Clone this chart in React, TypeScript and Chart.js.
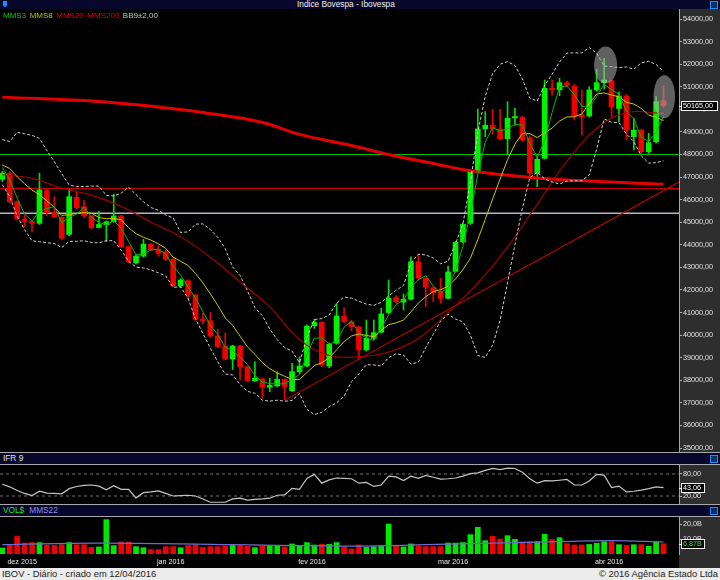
import React, { useEffect, useRef } from "react";
import { Chart, registerables } from "chart.js";

Chart.register(...registerables);

const FONT = '"Liberation Sans", Arial, Helvetica, sans-serif';
Chart.defaults.font.family = FONT;

// ---------------- price data (daily candles) ----------------
const opens = [
  46900, 47170, 45910, 45140, 45050, 44950, 46400, 45420, 45220, 44460,
  46100, 45690, 45280, 44770, 44890, 45020, 45280, 43920, 43200, 43500,
  44030, 43800, 43700, 43360, 42180, 42410, 41780, 40710, 40640, 39960,
  39520, 38940, 39520, 38600, 37970, 38060, 37690, 37750, 38040, 37540,
  38380, 38630, 40420, 40560, 38630, 39640, 40830, 40590, 40370, 39340,
  39860, 40130, 41000, 41660, 41460, 41590, 43250, 42520, 42100, 41910,
  41630, 42820, 44130, 44950, 47270, 49140, 49290, 49130, 48700, 49620,
  49650, 48740, 47170, 47830, 50930, 50860, 51180, 51030, 49750, 49700,
  50860, 51180, 51270, 50040, 50590, 48790, 49080, 48120, 48560, 50380,
];
const highs = [
  47250, 47250, 45950, 45320, 45100, 47170, 46450, 46130, 45250, 46460,
  46350, 45980, 45300, 45470, 45050, 46250, 45300, 43950, 43550, 44240,
  44050, 44000, 43750, 43400, 42500, 42450, 41800, 40970, 41000, 40260,
  40090, 39550, 39550, 38620, 38820, 38100, 38090, 38380, 38060, 38750,
  39040, 40450, 40700, 40600, 39650, 41410, 41230, 40650, 40400, 40670,
  40670, 41190, 42440, 41750, 41820, 43470, 43590, 42550, 42150, 42520,
  43060, 44150, 44950, 47300, 50010, 49900, 50000, 50000, 50340, 50040,
  49700, 48800, 47900, 51300, 51300, 51370, 51250, 51100, 50860, 51000,
  51770, 52260, 51300, 50780, 50650, 49600, 49100, 48940, 50560, 51030,
];
const lows = [
  46800, 45850, 45100, 44800, 44580, 44900, 45300, 45200, 44240, 44400,
  45600, 45200, 44700, 44750, 44140, 45000, 43880, 43200, 43150, 43450,
  43750, 43500, 43300, 42150, 42100, 41600, 40650, 40490, 39900, 39450,
  38900, 38480, 38010, 37950, 37950, 37200, 37490, 37700, 37130, 37500,
  38300, 38600, 40300, 38600, 38550, 39600, 40550, 40200, 38970, 39300,
  39800, 40100, 40950, 41400, 41110, 41550, 42450, 41260, 41480, 41410,
  41600, 42780, 44100, 44900, 47200, 48790, 48900, 48650, 47980, 49300,
  48600, 46940, 46570, 47800, 50630, 50600, 51000, 49530, 48860, 49650,
  50800, 50900, 49670, 49450, 48640, 48200, 48050, 48050, 48500, 50100,
];
const closes = [
  47170, 45910, 45140, 45050, 44950, 46430, 45420, 45240, 44290, 46130,
  45640, 45280, 44760, 44900, 45020, 45280, 43920, 43250, 43500, 44030,
  43770, 43620, 43350, 42180, 42440, 41780, 40700, 40640, 39960, 39490,
  38940, 39520, 38600, 37970, 38090, 37690, 37780, 38040, 37720, 38380,
  38630, 40400, 40560, 38680, 39600, 40850, 40610, 40370, 39340, 39860,
  40110, 40940, 41630, 41480, 41590, 43250, 42520, 42120, 41880, 41630,
  42800, 44110, 44910, 47240, 49130, 49290, 49140, 48690, 49600, 49680,
  48640, 47170, 47790, 50930, 50860, 51180, 51060, 49700, 49670, 50860,
  51180, 51300, 50110, 50590, 49080, 49080, 48120, 48520, 50340, 50165,
];
// closes just before the visible window (needed for the short averages)
const priorCloses = [48700, 47100, 48100, 47500, 47200, 48050, 47600, 47520];

// MMS20 and MMS200 (candle index -> value)
const mms20Idx = [0, 4, 8, 12, 16, 20, 24, 28, 32, 36, 40, 44, 48, 52, 56, 60, 64, 68, 72, 76, 80, 84, 89];
const mms20Val = [47100, 46950, 46500, 46200, 45700, 45000, 44350, 43450, 42350, 41250, 39800, 39100, 39040, 39250, 39850, 41000, 42300, 43900, 45800, 47700, 49150, 49850, 49820];
const mms200Idx = [0, 13, 21, 27, 35, 40, 47, 52, 58, 63, 69, 75, 82, 89];
const mms200Val = [50540, 50350, 50100, 49860, 49420, 48890, 48400, 48000, 47600, 47280, 47050, 46890, 46780, 46680];

// drawn support / resistance levels and trend line
const levelValues = [48000, 46500, 45400];
const levelColors = ["#00c000", "#c00000", "#b4b4c4"];
const trendIdx = [38, 91.1];
const trendVal = [37120, 46780];
// highlighted zones (candle index, price, half-width in candles, half-height in points)
const zoneIdx = [81.2, 89.1];
const zonePrice = [51960, 50560];
const zoneHalfIdx = [1.55, 1.45];
const zoneHalfPrice = [820, 960];

// IFR 9
const ifr9 = [
  52, 45, 35, 27, 21, 33, 28, 27, 26, 40,
  46, 49, 50, 47, 37, 48, 38, 38, 15, 29,
  31, 34, 27, 20, 21, 22, 20, 12, 3, 3,
  3, 12, 14, 9, 11, 12, 14, 22, 23, 41,
  38, 68, 79, 55, 64, 69, 68, 67, 55, 57,
  46, 50, 74, 72, 62, 74, 68, 76, 71, 66,
  67, 69, 74, 81, 83, 90, 95, 92, 96, 95,
  85, 67, 55, 62, 61, 63, 65, 50, 50, 61,
  79, 77, 43, 47, 31, 33, 36, 40, 45, 43.06,
];
const ifrLevels = [80, 20];

// volume (R$ billions)
const volumes = [
  4.0, 5.7, 11.7, 7.3, 7.6, 7.6, 6.0, 5.7, 6.2, 7.6,
  6.2, 6.2, 4.4, 4.7, 22.9, 5.6, 8.0, 8.0, 4.9, 4.2,
  2.9, 2.9, 4.9, 4.9, 4.2, 5.7, 6.2, 4.4, 4.9, 4.9,
  5.3, 5.7, 5.7, 5.1, 4.2, 5.3, 5.7, 5.6, 4.7, 6.7,
  5.7, 7.6, 6.0, 6.4, 6.4, 7.6, 4.9, 3.3, 6.0, 4.4,
  4.9, 5.3, 20.0, 5.3, 4.7, 6.7, 5.3, 4.9, 4.9, 4.9,
  7.3, 7.3, 7.6, 12.9, 17.8, 8.9, 11.8, 10.0, 12.2, 9.8,
  8.0, 8.2, 8.2, 13.1, 9.6, 10.9, 6.9, 6.0, 6.0, 6.4,
  7.1, 8.2, 8.2, 6.2, 5.7, 6.2, 6.2, 5.1, 8.0, 6.87,
];
const volMaIdx = [0, 13, 31, 48, 57, 66, 75, 82, 89];
const volMaVal = [6.2, 7.3, 6.2, 5.3, 6.2, 7.3, 8.2, 8.9, 8.0];

// axes
const priceTicks = [35000, 36000, 37000, 38000, 39000, 40000, 41000, 42000, 43000, 44000, 45000, 46000, 47000, 48000, 49000, 50000, 51000, 52000, 53000, 54000];
const ifrTicks = [20, 80];
const volTicks = [10, 20];
const monthIdx = [2, 22, 41, 60, 81];
const monthLabels = ["dez 2015", "jan 2016", "fev 2016", "mar 2016", "abr 2016"];

const XMIN = -0.31;
const XMAX = 91.08;
const PRICE_MIN = 34823;
const PRICE_MAX = 54443;

// ---------------- helpers ----------------
const allCloses = [...priorCloses, ...closes];
const P = priorCloses.length;
function windowAt(i: number, n: number) {
  const end = P + i;
  return allCloses.slice(Math.max(0, end - n + 1), end + 1);
}
function sma(n: number) {
  return closes.map((_, i) => {
    const w = windowAt(i, n);
    return w.reduce((a, b) => a + b, 0) / w.length;
  });
}
function band(n: number, k: number, sign: number) {
  return closes.map((_, i) => {
    const w = windowAt(i, n);
    const m = w.reduce((a, b) => a + b, 0) / w.length;
    const sd = Math.sqrt(w.reduce((a, b) => a + (b - m) * (b - m), 0) / w.length);
    return m + sign * k * sd;
  });
}
const pts = (xs: number[], ys: number[]) => xs.map((x, k) => ({ x, y: ys[k] }));
const series = (ys: number[]) => ys.map((y, i) => ({ x: i, y }));
const isUp = (i: number) => closes[i] >= opens[i];
const fmt2 = (v: number) => v.toFixed(2).replace(".", ",");
const fmtVol = (v: number) => v.toFixed(1).replace(".", ",") + "B";
const fmtVol2 = (v: number) => v.toFixed(2).replace(".", ",") + "B";

const AXIS_W = 41;
const AXIS_BG = "#2e2e2e";

const bgPlugin = {
  id: "bgPanel",
  beforeDraw(chart: any) {
    const { ctx, width, height, chartArea } = chart;
    ctx.save();
    ctx.fillStyle = "#000";
    ctx.fillRect(0, 0, width, height);
    ctx.fillStyle = AXIS_BG;
    ctx.fillRect(chartArea.right, 0, width - chartArea.right, height);
    ctx.restore();
  },
};

function valueBox(value: number, label: string, w: number, color: string) {
  return {
    id: "valueBox",
    afterDraw(chart: any) {
      const { ctx, chartArea } = chart;
      const y = Math.round(chart.scales.y.getPixelForValue(value));
      const x0 = chartArea.right + 2;
      ctx.save();
      ctx.fillStyle = "#000";
      ctx.fillRect(x0, y - 5, w, 10);
      ctx.strokeStyle = "#f0f0f0";
      ctx.lineWidth = 1;
      ctx.strokeRect(x0 + 0.5, y - 4.5, w - 1, 9);
      ctx.beginPath();
      ctx.moveTo(chartArea.right, y + 0.5);
      ctx.lineTo(x0, y + 0.5);
      ctx.stroke();
      ctx.fillStyle = color;
      ctx.font = `7.2px ${FONT}`;
      ctx.textBaseline = "middle";
      ctx.fillText(label, x0 + 2, y + 0.5);
      ctx.restore();
    },
  };
}

const zonePlugin = {
  id: "zones",
  afterDatasetsDraw(chart: any) {
    const { ctx, chartArea } = chart;
    const xs = chart.scales.x;
    const ys = chart.scales.y;
    ctx.save();
    ctx.beginPath();
    ctx.rect(chartArea.left, chartArea.top, chartArea.right - chartArea.left, chartArea.bottom - chartArea.top);
    ctx.clip();
    zoneIdx.forEach((zi, k) => {
      const cx = xs.getPixelForValue(zi);
      const cy = ys.getPixelForValue(zonePrice[k]);
      const rx = Math.abs(xs.getPixelForValue(zi + zoneHalfIdx[k]) - cx);
      const ry = Math.abs(ys.getPixelForValue(zonePrice[k] + zoneHalfPrice[k]) - cy);
      ctx.beginPath();
      ctx.ellipse(cx, cy, rx, ry, 0, 0, Math.PI * 2);
      ctx.fillStyle = "rgba(175,175,175,0.55)";
      ctx.fill();
    });
    ctx.restore();
  },
};

function xScale(display: boolean, extra: any = {}) {
  return {
    type: "linear",
    min: XMIN,
    max: XMAX,
    offset: false,
    display,
    grid: { display: false, drawTicks: false },
    border: { display: false },
    afterFit: (ax: any) => {
      ax.paddingLeft = 0;
      ax.paddingRight = 0;
    },
    ...extra,
  };
}

function yScale(min: number, max: number, ticks: number[], fmt: (v: number) => string) {
  return {
    type: "linear",
    position: "right",
    min,
    max,
    afterBuildTicks: (ax: any) => {
      ax.ticks = ticks.map((v) => ({ value: v }));
    },
    afterFit: (ax: any) => {
      ax.width = AXIS_W;
      ax.paddingTop = 0;
      ax.paddingBottom = 0;
    },
    grid: { display: true, drawOnChartArea: false, drawTicks: true, tickLength: 3, tickColor: "#b0b0b0", color: "#b0b0b0" },
    border: { display: true, color: "#a4a4a4", width: 1 },
    ticks: { color: "#e4e4e4", font: { family: FONT, size: 7.2 }, padding: 1, autoSkip: false, callback: (v: any) => fmt(Number(v)) },
  };
}

const common = {
  responsive: false,
  maintainAspectRatio: false,
  animation: false,
  events: [],
  layout: { padding: 0 },
  plugins: { legend: { display: false }, tooltip: { enabled: false } },
};

const line = (data: any[], color: string, width: number, order: number, extra: any = {}) => ({
  type: "line",
  data,
  borderColor: color,
  borderWidth: width,
  pointRadius: 0,
  fill: false,
  tension: 0,
  order,
  ...extra,
});

function mainConfig(): any {
  const mms3 = sma(3);
  const mms8 = sma(8);
  const bbUp = band(9, 2, 1);
  const bbDn = band(9, 2, -1);
  const datasets: any[] = [];
  levelValues.forEach((v, k) => {
    datasets.push(line([{ x: XMIN, y: v }, { x: XMAX, y: v }], levelColors[k], k === 2 ? 1.6 : 1.2, 10));
  });
  datasets.push(line(pts(trendIdx, trendVal), "#c80000", 1.1, 9));
  datasets.push({
    type: "bar",
    data: closes.map((_, i) => ({ x: i, y: [lows[i], highs[i]] })),
    backgroundColor: closes.map((_, i) => (isUp(i) ? "#00e000" : "#e80000")),
    barThickness: 1,
    grouped: false,
    minBarLength: 1,
    order: 6,
  });
  datasets.push({
    type: "bar",
    data: closes.map((_, i) => ({ x: i, y: [opens[i], closes[i]] })),
    backgroundColor: closes.map((_, i) => (isUp(i) ? "#00f200" : "#f00000")),
    barThickness: 5,
    grouped: false,
    minBarLength: 1,
    order: 5,
  });
  datasets.push(line(pts(mms200Idx, mms200Val), "#e40000", 3, 4, { tension: 0.4 }));
  datasets.push(line(pts(mms20Idx, mms20Val), "#a80000", 1.1, 3, { tension: 0.4 }));
  datasets.push(line(series(bbUp), "#cfcfcf", 1, 2, { borderDash: [3, 2] }));
  datasets.push(line(series(bbDn), "#cfcfcf", 1, 2, { borderDash: [3, 2] }));
  datasets.push(line(series(mms8), "#c8c800", 1, 1));
  datasets.push(line(series(mms3), "#00b800", 1, 0));
  return {
    type: "bar",
    data: { datasets },
    options: {
      ...common,
      scales: { x: xScale(false), y: yScale(PRICE_MIN, PRICE_MAX, priceTicks, fmt2) },
    },
    plugins: [bgPlugin, zonePlugin, valueBox(closes[closes.length - 1], fmt2(closes[closes.length - 1]), 37, "#ffffff")],
  };
}

function ifrConfig(): any {
  const datasets: any[] = [];
  ifrLevels.forEach((v) => {
    datasets.push(line([{ x: XMIN, y: v }, { x: XMAX, y: v }], "#707070", 1, 5, { borderDash: [3, 3] }));
  });
  datasets.push(line(series(ifr9), "#c4c4c4", 1.2, 0));
  return {
    type: "line",
    data: { datasets },
    options: {
      ...common,
      scales: { x: xScale(false), y: yScale(-1.8, 104.5, ifrTicks, fmt2) },
    },
    plugins: [bgPlugin, valueBox(ifr9[ifr9.length - 1], fmt2(ifr9[ifr9.length - 1]), 24, "#ffffff")],
  };
}

function volConfig(): any {
  const last = volumes[volumes.length - 1];
  const datasets: any[] = [
    line(pts(volMaIdx, volMaVal), "#6a6ad0", 1.2, 0, { tension: 0.4 }),
    {
      type: "bar",
      data: volumes.map((v, i) => ({ x: i, y: v })),
      backgroundColor: volumes.map((_, i) => (isUp(i) ? "#00e800" : "#f00000")),
      barThickness: 5,
      grouped: false,
      order: 1,
    },
  ];
  return {
    type: "bar",
    data: { datasets },
    options: {
      ...common,
      scales: {
        x: xScale(true, {
          afterBuildTicks: (ax: any) => {
            ax.ticks = monthIdx.map((v) => ({ value: v }));
          },
          afterFit: (ax: any) => {
            ax.height = 14;
            ax.paddingLeft = 0;
            ax.paddingRight = 0;
          },
          ticks: {
            color: "#e8e8e8",
            font: { family: FONT, size: 7.2 },
            padding: 4,
            autoSkip: false,
            maxRotation: 0,
            labelOffset: 5,
            callback: (v: any) => monthLabels[monthIdx.indexOf(Number(v))] ?? "",
          },
        }),
        y: yScale(0, 24.67, volTicks, fmtVol),
      },
    },
    plugins: [bgPlugin, valueBox(last, fmtVol2(last), 24, "#22ee22")],
  };
}

function ChartCanvas({ make, top, height }: { make: () => any; top: number; height: number }) {
  const ref = useRef<HTMLCanvasElement>(null);
  useEffect(() => {
    const c = new Chart(ref.current as HTMLCanvasElement, make());
    return () => c.destroy();
  }, []);
  return <canvas ref={ref} width={720} height={height} style={{ position: "absolute", left: 0, top, width: 720, height }} />;
}

const NAVY = "#07072c";
const SEP = "#a8a8a8";

function Icon({ top }: { top: number }) {
  return (
    <div style={{ position: "absolute", left: 710, top, width: 6, height: 6, border: "1px solid #1e8cff", background: "#06315e" }} />
  );
}

export default function App() {
  const hdr = (top: number, h: number): React.CSSProperties => ({
    position: "absolute", left: 0, top, width: 720, height: h, background: NAVY,
  });
  const sep = (top: number): React.CSSProperties => ({ position: "absolute", left: 0, top, width: 720, height: 1, background: SEP });
  return (
    <div style={{ position: "absolute", left: 0, top: 0, width: 720, height: 580, background: "#000", overflow: "hidden", fontFamily: FONT }}>
      <div style={hdr(0, 9)}>
        <div style={{ position: "absolute", left: 3, top: 1, width: 4, height: 6, background: "#1e8cff", borderRadius: "0 0 2px 2px" }} />
        <div style={{ position: "absolute", left: 297, top: 0, fontSize: 8.3, lineHeight: "9px", color: "#f0f0f0", whiteSpace: "nowrap" }}>
          Índice Bovespa - Ibovespa
        </div>
        <Icon top={1} />
      </div>

      <ChartCanvas make={mainConfig} top={9} height={443} />
      <div style={{ position: "absolute", left: 3, top: 12, display: "flex", gap: 3.5, fontSize: 8, lineHeight: "8px", whiteSpace: "nowrap" }}>
        <span style={{ color: "#00c800" }}>MMS3</span>
        <span style={{ color: "#c0c000" }}>MMS8</span>
        <span style={{ color: "#e00000" }}>MMS20</span>
        <span style={{ color: "#e00000" }}>MMS200</span>
        <span style={{ color: "#c8c8c8" }}>BB9±2,00</span>
      </div>

      <div style={sep(452)} />
      <div style={hdr(453, 11)}>
        <div style={{ position: "absolute", left: 3, top: 1, fontSize: 8.3, lineHeight: "9px", color: "#e0e0e0" }}>IFR 9</div>
        <Icon top={2} />
      </div>
      <div style={sep(464)} />
      <ChartCanvas make={ifrConfig} top={465} height={39} />
      <div style={sep(504)} />
      <div style={hdr(505, 11)}>
        <div style={{ position: "absolute", left: 3, top: 1, fontSize: 8.3, lineHeight: "9px", whiteSpace: "nowrap" }}>
          <span style={{ color: "#22e022" }}>VOL$</span>
          <span style={{ color: "#8c8cf0", marginLeft: 5 }}>MMS22</span>
        </div>
        <Icon top={2} />
      </div>
      <div style={sep(516)} />
      <ChartCanvas make={volConfig} top={517} height={51} />

      <div style={{ position: "absolute", left: 0, top: 568, width: 720, height: 12, background: "#ececec" }}>
        <div style={{ position: "absolute", left: 2, top: 0, fontSize: 9.4, lineHeight: "12px", color: "#222" }}>
          IBOV - Diário - criado em 12/04/2016
        </div>
        <div style={{ position: "absolute", right: 2, top: 0, fontSize: 9.4, lineHeight: "12px", color: "#222", whiteSpace: "nowrap" }}>
          © 2016 Agência Estado Ltda
        </div>
      </div>
    </div>
  );
}
